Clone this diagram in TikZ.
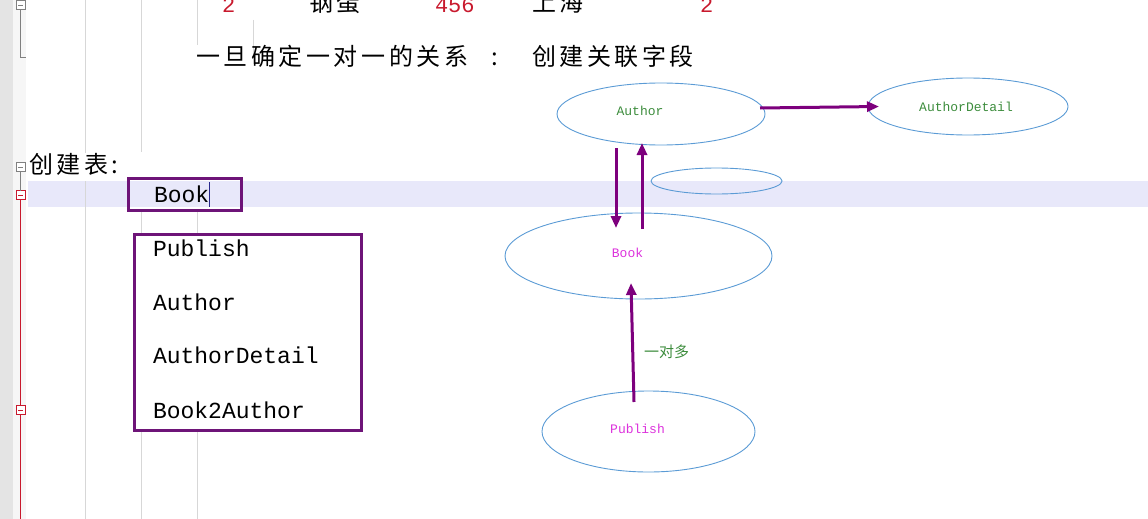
\documentclass[tikz,border=0pt]{standalone}
\usepackage{fontspec}
\setmainfont{Noto Sans CJK SC}
\newfontfamily\cjkfont{Noto Sans CJK SC}
\newfontfamily\monofont{Liberation Mono}
\definecolor{edpurple}{RGB}{110,20,120}
\definecolor{edarrow}{RGB}{125,0,125}
\definecolor{edblue}{RGB}{91,155,213}
\definecolor{edgreen}{RGB}{60,140,60}
\definecolor{edpink}{RGB}{220,50,220}
\definecolor{edred}{RGB}{200,25,45}
\definecolor{edband}{RGB}{232,232,250}
\definecolor{edguide}{RGB}{215,215,215}
\definecolor{edgutter}{RGB}{228,228,228}
\definecolor{edcursor}{RGB}{40,40,140}
\usetikzlibrary{arrows.meta,positioning,shapes.geometric,calc}

\begin{document}
\begin{tikzpicture}[x=1pt, y=-1pt, every node/.style={inner sep=0pt, outer sep=0pt},
  cjktext/.style={font=\cjkfont\addfontfeature{LetterSpace=15}\fontsize{24}{28}\selectfont, anchor=base west},
  codetext/.style={font=\monofont\fontsize{23}{26}\selectfont, anchor=base west},
  tablenode/.style={ellipse, draw=edblue, line width=0.9pt},
  tabtext/.style={font=\monofont\fontsize{13}{15}\selectfont},
  linkarrow/.style={-{Triangle[length=12pt,width=10pt]}, edarrow, line width=3pt},
  guideline/.style={edguide, line width=0.8pt},
  foldbox/.style={draw, fill=white, minimum size=9pt, line width=0.7pt},
  pickbox/.style={draw=edpurple, line width=3pt}]
\useasboundingbox (0,0) rectangle (1148,519);
% Editor background
\fill[edgutter] (0,0) rectangle (13,519);
\fill[gray!7] (13,0) rectangle (26,519);
\fill[edband] (28,181) rectangle (1148,207);
% Indent guides
\foreach \gx/\ya/\yb in {85/0/153, 85/181/519, 141/0/152, 141/212/519, 197/0/45, 197/212/519, 253/20/64} {
  \draw[guideline] (\gx,\ya) -- (\gx,\yb);
}
% Fold markers
\foreach \n/\fy/\fc in {f1/5/gray, f2/167/gray, f3/195/edred, f4/410/edred} {
  \node[foldbox, draw=\fc] (\n) at (20.5,\fy) {};
}
\draw[gray, line width=0.7pt] (f1.south) -- ++(0,48) -- ++(5.5,0);
\draw[gray, line width=0.7pt] (f2.south) -- (f3.north);
\draw[edred, line width=0.7pt] (f3.south) -- (f4.north);
\draw[edred, line width=0.7pt] (f4.south) -- (f4.south |- 0,519);
\foreach \n/\fc in {f1/gray, f2/gray, f3/edred, f4/edred} {
  \draw[\fc, line width=0.7pt] ([xshift=-2.5pt]\n.center) -- ([xshift=2.5pt]\n.center);
}
% Top row (cut off)
\node[codetext, edred, font=\monofont\fontsize{22}{26}\selectfont] (n1) at (222,13) {2};
\node[cjktext] (n2) at (309,11.5) {钢蛋};
\node[codetext, edred, font=\monofont\fontsize{22}{26}\selectfont] (n3) at (435,13) {456};
\node[cjktext] (n4) at (532,11.5) {上海};
\node[codetext, edred, font=\monofont\fontsize{22}{26}\selectfont] (n5) at (700,13) {2};
% Text lines
\node[cjktext] (note) at (196,66) {一旦确定一对一的关系};
\node[cjktext, anchor=base] (colon) at (495,66) {:};
\node[cjktext] (field) at (532,66) {创建关联字段};
\node[cjktext] (create) at (29,173) {创建表:};
% Table list
\node[pickbox, minimum width=113pt, minimum height=32pt] (bookbox) at (185,194.5) {};
\node[pickbox, fill=white, minimum width=227pt, minimum height=196pt] (listbox) at (248,332.5) {};
\node[codetext] (booktxt) at (154,202) {Book};
\draw[edcursor, line width=0.8pt] (209,182) -- (209,207);
\node[codetext] (t1) at (153,256) {Publish};
\node[codetext] (t2) at (153,310) {Author};
\node[codetext] (t3) at (153,363) {AuthorDetail};
\node[codetext] (t4) at (153,418) {Book2Author};
% Tables
\node[tablenode, minimum width=208pt, minimum height=62pt] (author) at (661,114) {};
\node[tablenode, minimum width=200pt, minimum height=57pt] (detail) at (968,106.5) {};
\node[tablenode, minimum width=131pt, minimum height=26pt] (blank) at (716.5,181) {};
\node[tablenode, minimum width=267pt, minimum height=86pt] (book) at (638.5,256) {};
\node[tablenode, minimum width=213pt, minimum height=81pt] (publish) at (648.5,431.5) {};
\node[tabtext, edgreen] (authortxt) at (640,111) {Author};
\node[tabtext, edgreen] (detailtxt) at (966,107) {AuthorDetail};
\node[tabtext, edpink] (booktabtxt) at (627.5,253) {Book};
\node[tabtext, edpink] (publishtxt) at (637.5,429) {Publish};
% Links
\draw[linkarrow] ($(author.east)+(-5,-6)$) -- ($(detail.west)+(11,0)$);
\draw[linkarrow] ($(author.south)+(-45,3)$) -- ($(book.north)+(-22.5,15)$);
\draw[linkarrow] ($(book.north)+(3.5,16)$) -- ($(author.south)+(-19,-2)$);
\draw[linkarrow] ($(publish.north)+(-14.5,11)$) -- ($(book.south)+(-7.5,-16)$);
\node[edgreen, font=\cjkfont\fontsize{15}{18}\selectfont] (many) at (666.5,352) {一对多};
\end{tikzpicture}
\end{document}
